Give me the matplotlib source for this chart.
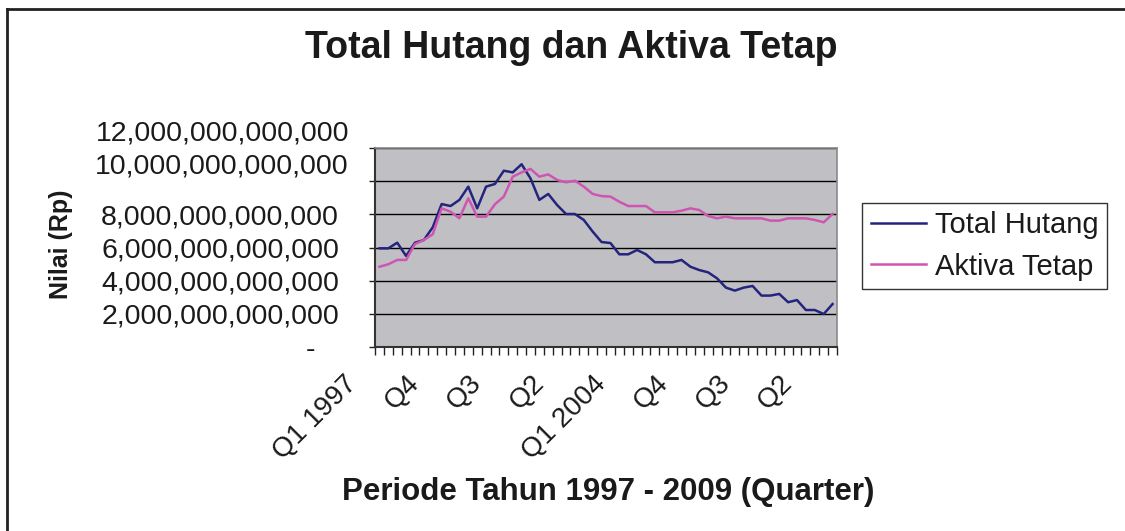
import matplotlib
matplotlib.use('Agg')
import matplotlib.pyplot as plt
from matplotlib.lines import Line2D
from matplotlib.transforms import ScaledTranslation
import numpy as np

plt.rcParams['font.family'] = ['Liberation Sans', 'DejaVu Sans']

# quarters Q1 1997 .. Q4 2009
years = list(range(1997, 2010))
quarters = [f'Q{q} {y}' for y in years for q in range(1, 5)]

# values in trillions of Rp
total_hutang = [5.95, 5.95, 6.29, 5.49, 6.29, 6.45, 7.22, 8.62, 8.50, 8.87,
                9.67, 8.36, 9.67, 9.83, 10.63, 10.53, 11.02, 10.17, 8.87, 9.23,
                8.56, 8.02, 8.02, 7.66, 6.96, 6.33, 6.27, 5.59, 5.59, 5.85,
                5.59, 5.11, 5.11, 5.11, 5.25, 4.84, 4.64, 4.50, 4.14, 3.58,
                3.40, 3.58, 3.68, 3.10, 3.10, 3.20, 2.70, 2.83, 2.23, 2.23,
                1.99, 2.59]
aktiva_tetap = [4.84, 4.99, 5.25, 5.25, 6.21, 6.45, 6.80, 8.36, 8.16, 7.76,
                8.97, 7.86, 7.86, 8.61, 9.07, 10.27, 10.53, 10.74, 10.27, 10.41,
                10.07, 9.93, 10.03, 9.67, 9.23, 9.10, 9.07, 8.76, 8.50, 8.50,
                8.50, 8.12, 8.12, 8.12, 8.22, 8.36, 8.26, 7.90, 7.76, 7.86,
                7.76, 7.76, 7.76, 7.76, 7.62, 7.62, 7.76, 7.76, 7.76, 7.66,
                7.52, 8.02]

ytick_vals = [0, 2, 4, 6, 8, 10, 12]
ytick_labels = ['-   ', '2,000,000,000,000', '4,000,000,000,000', '6,000,000,000,000',
                '8,000,000,000,000', '10,000,000,000,000', '12,000,000,000,000']

# every 7th quarter gets a label, like the Excel axis
xlabels = []
for i, q in enumerate(quarters):
    if i % 7 == 0:
        lab = q if (i == 0 or q.startswith('Q1')) else q.split()[0]
        xlabels.append((i, lab))

N = len(total_hutang)
x = np.arange(N)

W, H = 1125, 531
fig = plt.figure(figsize=(W / 100, H / 100), dpi=100)
ax = fig.add_axes([375 / W, 1 - 347 / H, 462 / W, 199 / H])
ax.set_facecolor('#C0C0C4')

ax.plot(x, total_hutang, color='#24247E', lw=1.8, label='Total Hutang')
ax.plot(x, aktiva_tetap, color='#CE55B2', lw=1.8, label='Aktiva Tetap')

ax.set_xlim(-0.5, N - 0.5)
ax.set_ylim(0, 12)
ax.set_yticks(ytick_vals)
ax.set_yticklabels(ytick_labels, fontsize=20.5)
ax.yaxis.grid(True, color='black', lw=1.0)
ax.set_axisbelow(True)
ax.tick_params(axis='y', direction='out', length=4, width=1, pad=22, colors='#222222')
ax.tick_params(axis='y', labelcolor='#1a1a1a')

# category boundaries as tick marks, labels at category centres
ax.set_xticks(np.arange(-0.5, N, 1.0))
ax.set_xticklabels([])
ax.tick_params(axis='x', direction='out', length=6, width=1, colors='#222222')
ax.set_xticks([i for i, _ in xlabels], minor=True)
ax.set_xticklabels([l for _, l in xlabels], minor=True, rotation=45,
                   ha='right', va='center', rotation_mode='anchor', fontsize=20)
ax.tick_params(axis='x', which='minor', length=0, pad=22, labelcolor='#1a1a1a')

for s in ['left', 'bottom']:
    ax.spines[s].set_color('#333333')
    ax.spines[s].set_linewidth(1.5)
for s in ['top', 'right']:
    ax.spines[s].set_color('#8a8a8a')
    ax.spines[s].set_linewidth(1.2)

# the two top labels sit a little higher and to the right in the original
for lab in ax.get_yticklabels()[5:]:
    lab.set_transform(lab.get_transform() + ScaledTranslation(10 / 100, 18 / 100, fig.dpi_scale_trans))
# rotated category labels sit left of their category
for lab in ax.get_xticklabels(minor=True):
    lab.set_transform(lab.get_transform() + ScaledTranslation(-26 / 100, -2 / 100, fig.dpi_scale_trans))

fig.text(571 / W, 1 - 48 / H, 'Total Hutang dan Aktiva Tetap', fontsize=27,
         fontweight='bold', ha='center', va='center', color='#1a1a1a')
fig.text(608 / W, 1 - 492 / H, 'Periode Tahun 1997 - 2009 (Quarter)', fontsize=22.5,
         fontweight='bold', ha='center', va='center', color='#1a1a1a')
fig.text(61 / W, 1 - 244 / H, 'Nilai (Rp)', fontsize=18, fontweight='bold',
         rotation=90, ha='center', va='center', color='#1a1a1a')

leg = fig.legend(loc='center left', bbox_to_anchor=(862 / W, 1 - 246 / H),
                 fontsize=21, frameon=True, fancybox=False, edgecolor='black',
                 handlelength=1.9, handletextpad=0.3, labelspacing=0.45,
                 borderpad=0.3, borderaxespad=0)
leg.get_frame().set_linewidth(1.0)
for t in leg.get_texts():
    t.set_color('#1a1a1a')

# outer chart border (left and top edges visible in the crop)
fig.add_artist(Line2D([7 / W, 7 / W], [0, 1 - 9 / H], transform=fig.transFigure, color='#222222', lw=2))
fig.add_artist(Line2D([7 / W, 1], [1 - 9 / H, 1 - 9 / H], transform=fig.transFigure, color='#222222', lw=2))

fig.savefig('out.png', dpi=100, facecolor='white')
